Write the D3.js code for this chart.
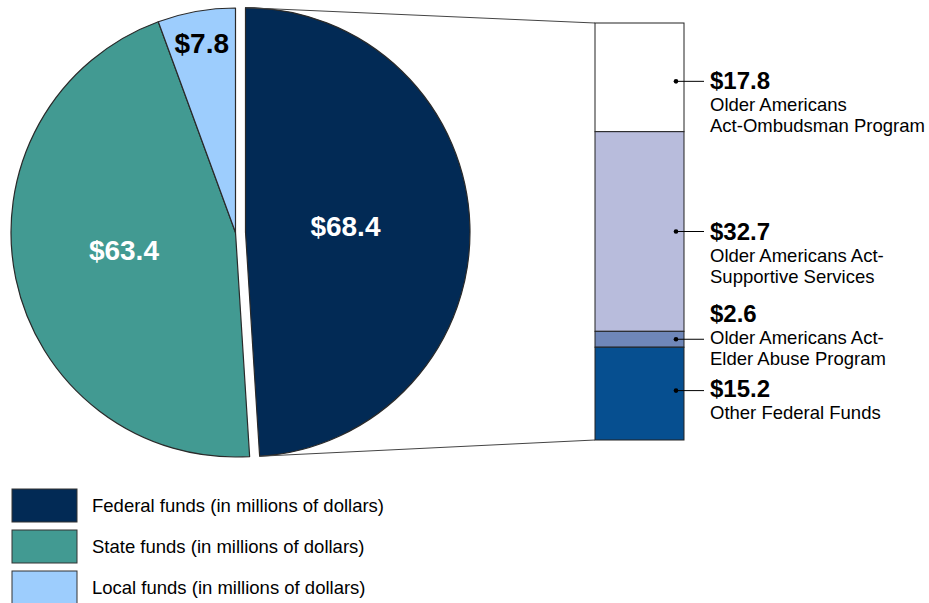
<!DOCTYPE html>
<html><head><meta charset="utf-8">
<script src="https://cdn.jsdelivr.net/npm/d3@7"></script>
<style>
html,body{margin:0;padding:0;background:#fff;}
svg{display:block;font-family:"Liberation Sans",Arial,sans-serif;}
</style></head>
<body><svg id="chart" width="929" height="603"></svg>
<script>
// ---- data ----
const pieCategories = ["Federal funds (in millions of dollars)", "State funds (in millions of dollars)", "Local funds (in millions of dollars)"];
const pieValues = [68.4, 63.4, 7.8];
const pieLabels = ["$68.4", "$63.4", "$7.8"];
const pieColors = ["#022a55", "#429a92", "#9dcdfd"];

const barValueLabels = ["$17.8", "$32.7", "$2.6", "$15.2"];
const barValues = [17.8, 32.7, 2.6, 15.2];
const barDescriptions = [
  ["Older Americans", "Act-Ombudsman Program"],
  ["Older Americans Act-", "Supportive Services"],
  ["Older Americans Act-", "Elder Abuse Program"],
  ["Other Federal Funds"]
];
const barColors = ["#ffffff", "#b8bcdc", "#6f87b9", "#064f90"];

// ---- layout ----
const svg = d3.select("#chart");
const cx = 235.5, cy = 232.5, R = 224.5, explode = 10;
const pie = d3.pie().sort(null).value(d => d).startAngle(0).endAngle(2 * Math.PI);
const arcs = pie(pieValues);
const arc = d3.arc().innerRadius(0).outerRadius(R);
const labelRadii = [100, 114, 193];
const labelNudge = [[0, -3], [0, -6], [0, 0]];

const offsets = arcs.map((a, i) => {
  if (i !== 0) return [0, 0];
  const m = (a.startAngle + a.endAngle) / 2;
  return [explode * Math.sin(m), -explode * Math.cos(m)];
});

const gPie = svg.append("g").attr("transform", `translate(${cx},${cy})`);
gPie.selectAll("path").data(arcs).join("path")
  .attr("transform", (d, i) => `translate(${offsets[i][0]},${offsets[i][1]})`)
  .attr("d", arc)
  .attr("fill", (d, i) => pieColors[i])
  .attr("stroke", "#2a2a2a").attr("stroke-width", 1.2).attr("stroke-linejoin", "round");

gPie.selectAll("text").data(arcs).join("text")
  .attr("x", (d, i) => offsets[i][0] + labelNudge[i][0] + labelRadii[i] * Math.sin((d.startAngle + d.endAngle) / 2))
  .attr("y", (d, i) => offsets[i][1] + labelNudge[i][1] - labelRadii[i] * Math.cos((d.startAngle + d.endAngle) / 2))
  .attr("dy", "0.36em")
  .attr("text-anchor", "middle")
  .attr("font-size", 28).attr("font-weight", "bold")
  .attr("fill", (d, i) => i === 2 ? "#000" : "#fff")
  .text((d, i) => pieLabels[i]);

// ---- stacked bar ----
const barX = 595, barW = 89, barTop = 23, barBottom = 440;
const total = d3.sum(barValues);
const y = d3.scaleLinear().domain([0, total]).range([barTop, barBottom]);
const cum = [];
barValues.reduce((acc, v, i) => { cum.push([acc, acc + v]); return acc + v; }, 0);

// connector lines from federal slice
const fed = arcs[0];
const p1 = [cx + offsets[0][0] + R * Math.sin(fed.startAngle), cy + offsets[0][1] - R * Math.cos(fed.startAngle)];
const p2 = [cx + offsets[0][0] + R * Math.sin(fed.endAngle), cy + offsets[0][1] - R * Math.cos(fed.endAngle)];
svg.append("line").attr("x1", p1[0]).attr("y1", p1[1]).attr("x2", barX).attr("y2", barTop)
  .attr("stroke", "#444").attr("stroke-width", 1);
svg.append("line").attr("x1", p2[0]).attr("y1", p2[1]).attr("x2", barX).attr("y2", barBottom)
  .attr("stroke", "#444").attr("stroke-width", 1);

const gBar = svg.append("g");
gBar.selectAll("rect").data(barValues).join("rect")
  .attr("x", barX).attr("width", barW)
  .attr("y", (d, i) => y(cum[i][0]))
  .attr("height", (d, i) => y(cum[i][1]) - y(cum[i][0]))
  .attr("fill", (d, i) => barColors[i])
  .attr("stroke", "#222").attr("stroke-width", 1);

// labels
const valueShift = [8, 8, -17, 6];
const dotShift = [4, 0, 0, -3];
barValues.forEach((v, i) => {
  const mid = (y(cum[i][0]) + y(cum[i][1])) / 2 + dotShift[i];
  gBar.append("circle").attr("cx", 676).attr("cy", mid).attr("r", 2.3).attr("fill", "#000");
  gBar.append("line").attr("x1", 676).attr("x2", 704).attr("y1", mid).attr("y2", mid)
    .attr("stroke", "#000").attr("stroke-width", 1);
  const base = mid + valueShift[i];
  gBar.append("text").attr("x", 710).attr("y", base)
    .attr("font-size", 24).attr("font-weight", "bold").attr("fill", "#000")
    .text(barValueLabels[i]);
  barDescriptions[i].forEach((line, j) => {
    gBar.append("text").attr("x", 710).attr("y", base + 22 + j * 21)
      .attr("font-size", 18.5).attr("fill", "#000").text(line);
  });
});

// ---- legend ----
const gLeg = svg.append("g");
pieCategories.forEach((c, i) => {
  const ty = 489 + i * 41;
  gLeg.append("rect").attr("x", 12).attr("y", ty).attr("width", 65).attr("height", 33)
    .attr("fill", pieColors[i]).attr("stroke", "#333").attr("stroke-width", 1);
  gLeg.append("text").attr("x", 92).attr("y", ty + 23).attr("font-size", 18.5).attr("fill", "#000").text(c);
});
</script></body></html>
